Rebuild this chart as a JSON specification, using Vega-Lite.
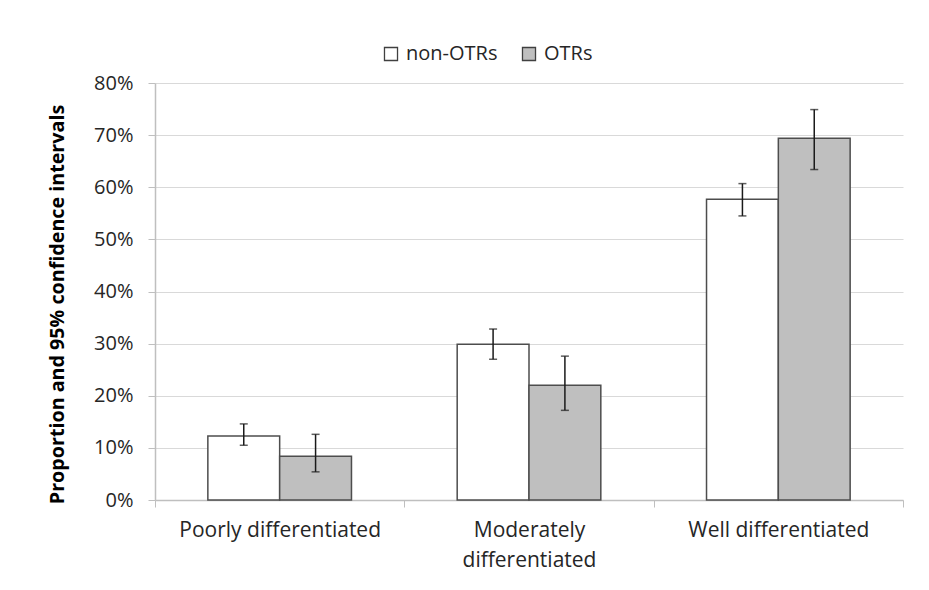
{
  "$schema": "https://vega.github.io/schema/vega-lite/v6.json",
  "width": 748,
  "height": 417,
  "autosize": {"type": "none"},
  "padding": {"left": 155, "top": 83, "right": 26, "bottom": 90},
  "background": "white",
  "config": {
    "view": {"stroke": null},
    "font": "Open Sans",
    "axis": {"labelColor": "#262626", "titleColor": "#000000", "labelFont": "Open Sans", "titleFont": "Open Sans"},
    "legend": {"labelFont": "Open Sans", "labelColor": "#262626"}
  },
  "data": {
    "values": [
      {"category": "Poorly differentiated", "group": "non-OTRs", "value": 0.123, "lo": 0.105, "hi": 0.146},
      {"category": "Poorly differentiated", "group": "OTRs", "value": 0.084, "lo": 0.054, "hi": 0.126},
      {"category": "Moderately differentiated", "group": "non-OTRs", "value": 0.299, "lo": 0.270, "hi": 0.328},
      {"category": "Moderately differentiated", "group": "OTRs", "value": 0.220, "lo": 0.172, "hi": 0.276},
      {"category": "Well differentiated", "group": "non-OTRs", "value": 0.577, "lo": 0.545, "hi": 0.607},
      {"category": "Well differentiated", "group": "OTRs", "value": 0.694, "lo": 0.634, "hi": 0.749}
    ]
  },
  "encoding": {
    "x": {
      "field": "category",
      "type": "nominal",
      "sort": ["Poorly differentiated", "Moderately differentiated", "Well differentiated"],
      "scale": {"paddingInner": 0, "paddingOuter": 0},
      "axis": {
        "title": null,
        "labelAngle": 0,
        "tickBand": "extent",
        "tickSize": 7,
        "tickColor": "#bfbfbf",
        "domainColor": "#bfbfbf",
        "domainWidth": 1.5,
        "labelFontSize": 21,
        "labelPadding": 12,
        "labelLineHeight": 30,
        "labelLimit": 300,
        "labelExpr": "datum.label == 'Moderately differentiated' ? ['Moderately', 'differentiated'] : datum.label"
      }
    },
    "xOffset": {
      "field": "group",
      "type": "nominal",
      "sort": ["non-OTRs", "OTRs"],
      "scale": {"paddingInner": 0, "paddingOuter": 0.736}
    }
  },
  "layer": [
    {
      "mark": {"type": "bar", "stroke": "#4d4d4d", "strokeWidth": 1.5},
      "encoding": {
        "y": {
          "field": "value",
          "type": "quantitative",
          "scale": {"domain": [0, 0.8], "nice": false},
          "axis": {
            "title": "Proportion and 95% confidence intervals",
            "titleFontSize": 19.7,
            "titleFontWeight": "bold",
            "titlePadding": 26,
            "titleY": 221,
            "format": ".0%",
            "values": [0, 0.1, 0.2, 0.3, 0.4, 0.5, 0.6, 0.7, 0.8],
            "labelFontSize": 20,
            "labelPadding": 15,
            "tickSize": 7,
            "tickColor": "#bfbfbf",
            "domainColor": "#bfbfbf",
            "domainWidth": 1.5,
            "gridColor": "#d9d9d9",
            "gridWidth": 1.2
          }
        },
        "fill": {
          "field": "group",
          "type": "nominal",
          "sort": ["non-OTRs", "OTRs"],
          "scale": {"range": ["#ffffff", "#bfbfbf"]},
          "legend": {
            "orient": "none",
            "legendX": 226,
            "legendY": -39,
            "direction": "horizontal",
            "title": null,
            "symbolType": "square",
            "symbolSize": 170,
            "symbolStrokeColor": "#404040",
            "symbolStrokeWidth": 1.3,
            "labelFontSize": 20,
            "labelOffset": 5,
            "columnPadding": 21
          }
        }
      }
    },
    {
      "mark": {"type": "rule", "color": "#1a1a1a", "strokeWidth": 1.5},
      "encoding": {
        "y": {"field": "lo", "type": "quantitative"},
        "y2": {"field": "hi"}
      }
    },
    {
      "mark": {"type": "tick", "color": "#1a1a1a", "thickness": 1.5, "size": 8},
      "encoding": {"y": {"field": "lo", "type": "quantitative"}}
    },
    {
      "mark": {"type": "tick", "color": "#1a1a1a", "thickness": 1.5, "size": 8},
      "encoding": {"y": {"field": "hi", "type": "quantitative"}}
    }
  ]
}
